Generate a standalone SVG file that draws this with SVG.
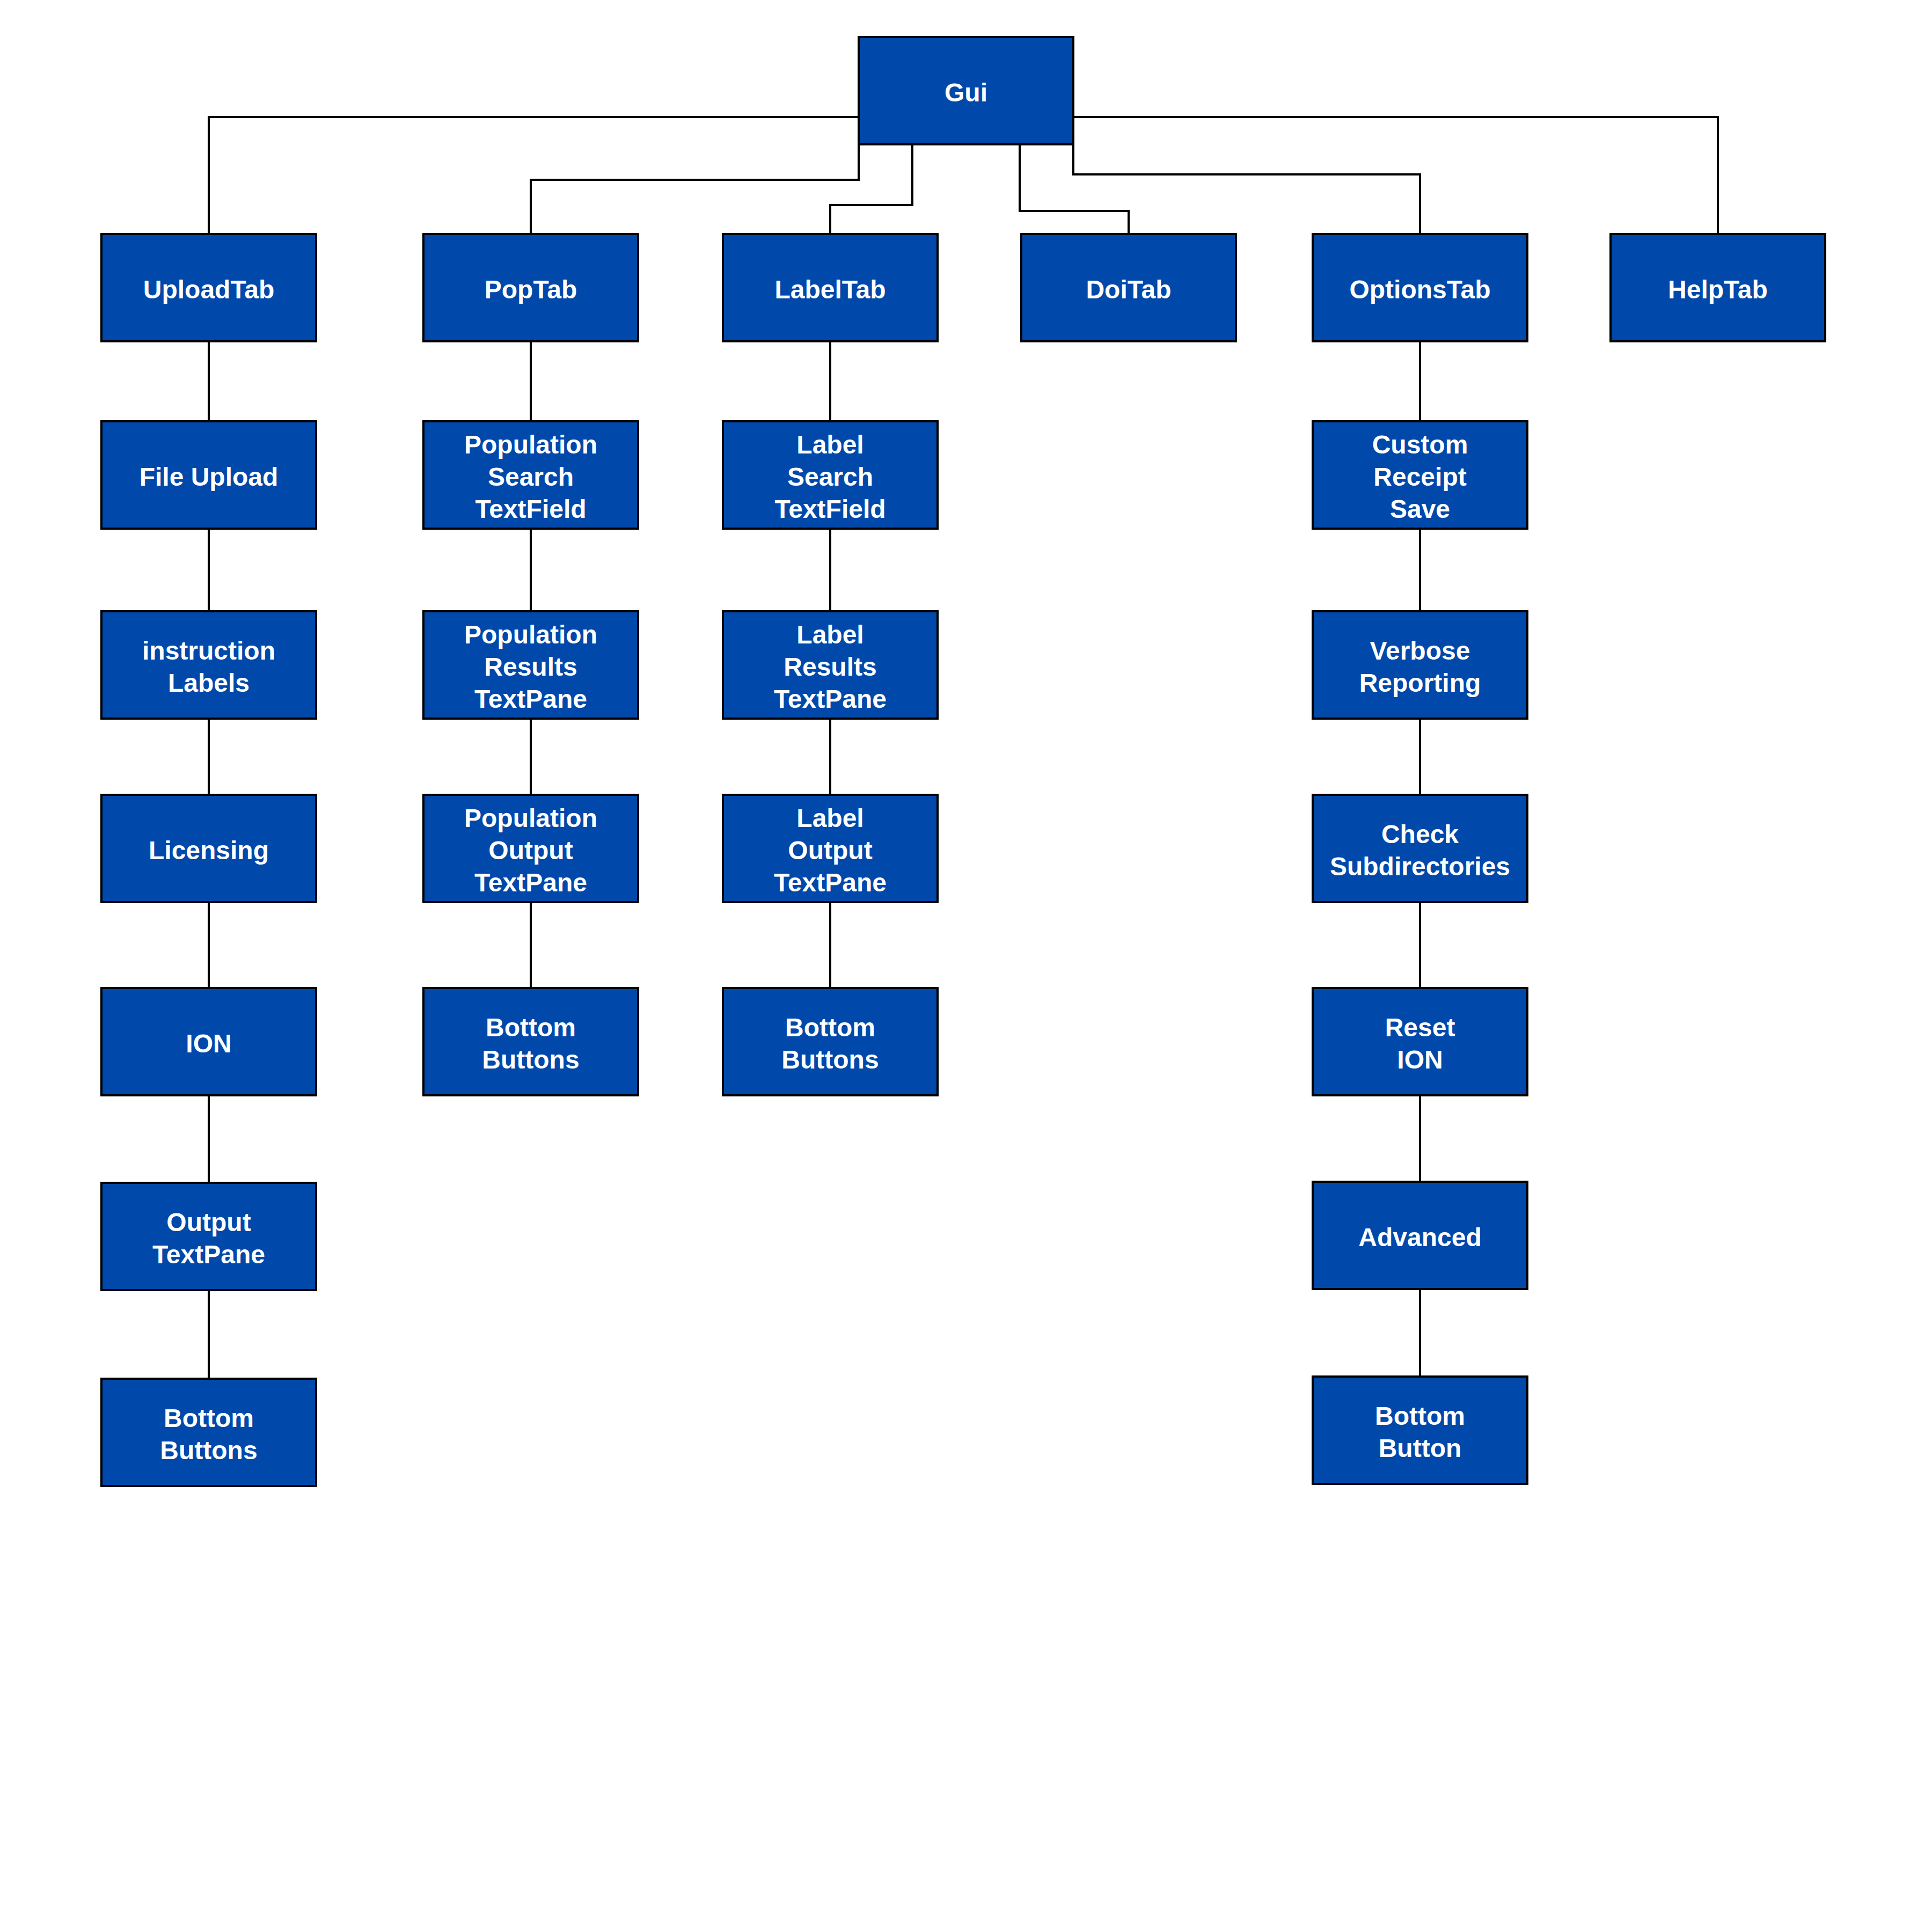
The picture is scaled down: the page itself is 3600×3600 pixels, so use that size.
<svg xmlns="http://www.w3.org/2000/svg" width="3600" height="3600" viewBox="0 0 3600 3600">
  <style>
    .box { fill: #0049AA; stroke: #000; stroke-width: 4; }
    .lbl { fill: #fff; font-family: "Liberation Sans", Arial, Helvetica, sans-serif; font-weight: bold; font-size: 48px; text-anchor: middle; }
    .edge { fill: none; stroke: #000; stroke-width: 4; }
  </style>
  <rect x="0" y="0" width="3600" height="3600" fill="#fff"/>

  <!-- connectors -->
  <g id="connectors">
    <path class="edge" d="M1600 218 H389 V436"/>
    <path class="edge" d="M2000 218 H3201 V436"/>
    <path class="edge" d="M1600 269 V335 H989 V436"/>
    <path class="edge" d="M1700 269 V382 H1547 V436"/>
    <path class="edge" d="M1900 269 V393 H2103 V436"/>
    <path class="edge" d="M2000 269 V325 H2646 V436"/>

    <path class="edge" d="M389 636 V785 M389 985 V1139 M389 1339 V1481 M389 1681 V1841 M389 2041 V2204 M389 2404 V2569"/>
    <path class="edge" d="M989 636 V785 M989 985 V1139 M989 1339 V1481 M989 1681 V1841"/>
    <path class="edge" d="M1547 636 V785 M1547 985 V1139 M1547 1339 V1481 M1547 1681 V1841"/>
    <path class="edge" d="M2646 636 V785 M2646 985 V1139 M2646 1339 V1481 M2646 1681 V1841 M2646 2041 V2202 M2646 2402 V2565"/>
  </g>

  <!-- root -->
  <g id="gui"><rect class="box" x="1600" y="69" width="400" height="200"/><text class="lbl" x="1800" y="189">Gui</text></g>

  <!-- tabs -->
  <g id="uploadTab"><rect class="box" x="189" y="436" width="400" height="200"/><text class="lbl" x="389" y="556">UploadTab</text></g>
  <g id="popTab"><rect class="box" x="789" y="436" width="400" height="200"/><text class="lbl" x="989" y="556">PopTab</text></g>
  <g id="labelTab"><rect class="box" x="1347" y="436" width="400" height="200"/><text class="lbl" x="1547" y="556">LabelTab</text></g>
  <g id="doiTab"><rect class="box" x="1903" y="436" width="400" height="200"/><text class="lbl" x="2103" y="556">DoiTab</text></g>
  <g id="optionsTab"><rect class="box" x="2446" y="436" width="400" height="200"/><text class="lbl" x="2646" y="556">OptionsTab</text></g>
  <g id="helpTab"><rect class="box" x="3001" y="436" width="400" height="200"/><text class="lbl" x="3201" y="556">HelpTab</text></g>

  <!-- upload column -->
  <g id="fileUpload"><rect class="box" x="189" y="785" width="400" height="200"/><text class="lbl" x="389" y="905">File Upload</text></g>
  <g id="instructionLabels"><rect class="box" x="189" y="1139" width="400" height="200"/><text class="lbl" x="389" y="1229">instruction</text><text class="lbl" x="389" y="1289">Labels</text></g>
  <g id="licensing"><rect class="box" x="189" y="1481" width="400" height="200"/><text class="lbl" x="389" y="1601">Licensing</text></g>
  <g id="ion"><rect class="box" x="189" y="1841" width="400" height="200"/><text class="lbl" x="389" y="1961">ION</text></g>
  <g id="outputTextPane"><rect class="box" x="189" y="2204" width="400" height="200"/><text class="lbl" x="389" y="2294">Output</text><text class="lbl" x="389" y="2354">TextPane</text></g>
  <g id="uploadBottomButtons"><rect class="box" x="189" y="2569" width="400" height="200"/><text class="lbl" x="389" y="2659">Bottom</text><text class="lbl" x="389" y="2719">Buttons</text></g>

  <!-- population column -->
  <g id="popSearch"><rect class="box" x="789" y="785" width="400" height="200"/><text class="lbl" x="989" y="845">Population</text><text class="lbl" x="989" y="905">Search</text><text class="lbl" x="989" y="965">TextField</text></g>
  <g id="popResults"><rect class="box" x="789" y="1139" width="400" height="200"/><text class="lbl" x="989" y="1199">Population</text><text class="lbl" x="989" y="1259">Results</text><text class="lbl" x="989" y="1319">TextPane</text></g>
  <g id="popOutput"><rect class="box" x="789" y="1481" width="400" height="200"/><text class="lbl" x="989" y="1541">Population</text><text class="lbl" x="989" y="1601">Output</text><text class="lbl" x="989" y="1661">TextPane</text></g>
  <g id="popBottomButtons"><rect class="box" x="789" y="1841" width="400" height="200"/><text class="lbl" x="989" y="1931">Bottom</text><text class="lbl" x="989" y="1991">Buttons</text></g>

  <!-- label column -->
  <g id="labelSearch"><rect class="box" x="1347" y="785" width="400" height="200"/><text class="lbl" x="1547" y="845">Label</text><text class="lbl" x="1547" y="905">Search</text><text class="lbl" x="1547" y="965">TextField</text></g>
  <g id="labelResults"><rect class="box" x="1347" y="1139" width="400" height="200"/><text class="lbl" x="1547" y="1199">Label</text><text class="lbl" x="1547" y="1259">Results</text><text class="lbl" x="1547" y="1319">TextPane</text></g>
  <g id="labelOutput"><rect class="box" x="1347" y="1481" width="400" height="200"/><text class="lbl" x="1547" y="1541">Label</text><text class="lbl" x="1547" y="1601">Output</text><text class="lbl" x="1547" y="1661">TextPane</text></g>
  <g id="labelBottomButtons"><rect class="box" x="1347" y="1841" width="400" height="200"/><text class="lbl" x="1547" y="1931">Bottom</text><text class="lbl" x="1547" y="1991">Buttons</text></g>

  <!-- options column -->
  <g id="customReceiptSave"><rect class="box" x="2446" y="785" width="400" height="200"/><text class="lbl" x="2646" y="845">Custom</text><text class="lbl" x="2646" y="905">Receipt</text><text class="lbl" x="2646" y="965">Save</text></g>
  <g id="verboseReporting"><rect class="box" x="2446" y="1139" width="400" height="200"/><text class="lbl" x="2646" y="1229">Verbose</text><text class="lbl" x="2646" y="1289">Reporting</text></g>
  <g id="checkSubdirectories"><rect class="box" x="2446" y="1481" width="400" height="200"/><text class="lbl" x="2646" y="1571">Check</text><text class="lbl" x="2646" y="1631">Subdirectories</text></g>
  <g id="resetIon"><rect class="box" x="2446" y="1841" width="400" height="200"/><text class="lbl" x="2646" y="1931">Reset</text><text class="lbl" x="2646" y="1991">ION</text></g>
  <g id="advanced"><rect class="box" x="2446" y="2202" width="400" height="200"/><text class="lbl" x="2646" y="2322">Advanced</text></g>
  <g id="optionsBottomButton"><rect class="box" x="2446" y="2565" width="400" height="200"/><text class="lbl" x="2646" y="2655">Bottom</text><text class="lbl" x="2646" y="2715">Button</text></g>
</svg>
